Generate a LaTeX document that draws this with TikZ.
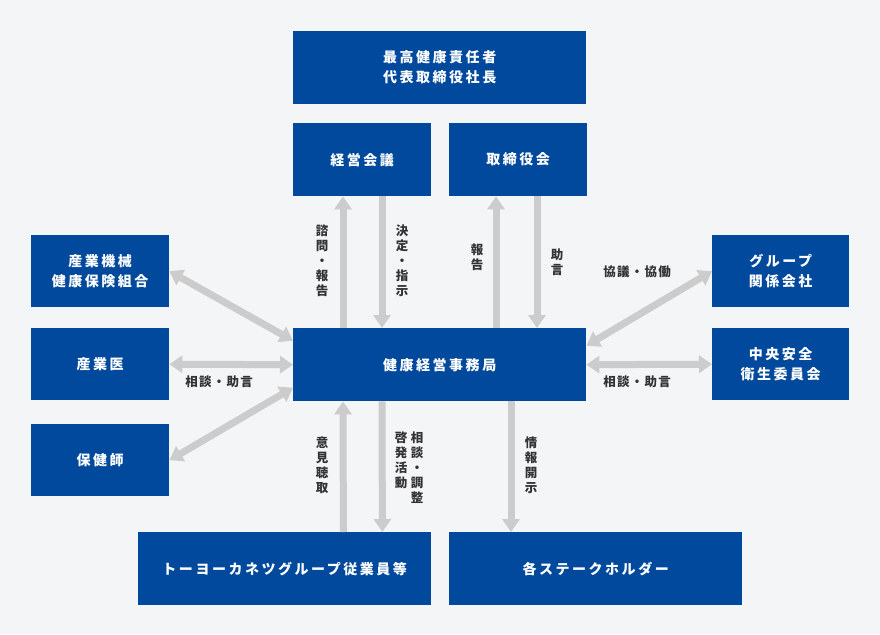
\documentclass[tikz,border=0pt]{standalone}
\usepackage{fontspec}
\usepackage{xcolor}
\usetikzlibrary{arrows.meta}
\setmainfont{Noto Sans CJK JP}
\newfontfamily\boxfont{Noto Sans CJK JP}[LetterSpace=18]
\newfontfamily\labfont{Noto Sans CJK JP}[LetterSpace=10]
\definecolor{boxblue}{RGB}{0,73,157}
\definecolor{bggray}{RGB}{244,245,247}
\definecolor{arrgray}{RGB}{204,204,204}
\definecolor{labgray}{RGB}{51,51,51}

\begin{document}
\begin{tikzpicture}[x=1pt, y=-1pt,
boxnode/.style={fill=boxblue, text=white, anchor=north west, align=center,
  font=\boxfont\bfseries\fontsize{14}{20}\selectfont, inner sep=0pt},
widebox/.style={boxnode, minimum width=293pt, minimum height=73pt},
smallbox/.style={boxnode, minimum width=138pt, minimum height=73pt},
flow/.style={draw=arrgray, line width=7pt, -{Triangle[width=17pt,length=13pt]}},
twoway/.style={draw=arrgray, line width=7pt, {Triangle[width=17pt,length=13pt]}-{Triangle[width=17pt,length=13pt]}},
lab/.style={text=labgray, align=center, inner sep=0pt,
  font=\labfont\bfseries\fontsize{12.5}{15}\selectfont}]

\fill[bggray] (0,0) rectangle (880,634);

% boxes
\node[widebox] (ceo) at (293,31) {最高健康責任者\\代表取締役社長};
\node[smallbox] (keiei) at (293,123) {経営会議};
\node[smallbox] (tori) at (449,123) {取締役会};
\node[widebox] (jimu) at (293,328) {健康経営事務局};

\node[smallbox, minimum height=72pt] (kumiai) at (31,235) {産業機械\\健康保険組合};
\node[smallbox, minimum height=72pt] (sangyoi) at (31,328) {産業医};
\node[smallbox, minimum height=72pt] (hokenshi) at (31,424) {保健師};

\node[smallbox, minimum width=137pt, minimum height=72pt] (group) at (712,235) {グループ\\関係会社};
\node[smallbox, minimum width=137pt, minimum height=72pt] (iinkai) at (712,328) {中央安全\\衛生委員会};

\node[widebox] (staff) at (138,532) {トーヨーカネツグループ従業員等};
\node[widebox] (stake) at (449,532) {各ステークホルダー};

% vertical arrows, upper half
\draw[flow] ([xshift=50pt]jimu.north west) -- ([xshift=50pt]keiei.south west);
\draw[flow] ([xshift=89pt]keiei.south west) -- ([xshift=89pt]jimu.north west);
\draw[flow] ([xshift=203pt]jimu.north west) -- ([xshift=47pt]tori.south west);
\draw[flow] ([xshift=88pt]tori.south west) -- ([xshift=244pt]jimu.north west);

% vertical arrows, lower half
\draw[flow] ([xshift=-88pt]staff.north east) -- ([xshift=50pt]jimu.south west);
\draw[flow] ([xshift=89pt]jimu.south west) -- ([xshift=-49pt]staff.north east);
\draw[flow] ([xshift=218pt]jimu.south west) -- ([xshift=62pt]stake.north west);

% left side
\draw[twoway] (kumiai.east) -- ([yshift=24pt]jimu.west);
\draw[twoway] (sangyoi.east) -- (jimu.west);
\draw[twoway] (hokenshi.east) -- ([yshift=-23pt]jimu.west);

% right side
\draw[twoway] ([yshift=19pt]jimu.east) -- (group.west);
\draw[twoway] (jimu.east) -- (iinkai.west);

% labels
\node[lab] (l1) at (322,261) {諮\\問\\・\\報\\告};
\node[lab] (l2) at (402,261) {決\\定\\・\\指\\示};
\node[lab] (l3) at (477,257) {報\\告};
\node[lab] (l4) at (557,262) {助\\言};
\node[lab] (l5) at (219,382) {相談・助言};
\node[lab] (l6) at (637,382) {相談・助言};
\node[lab] (l7) at (637,272) {協議・協働};
\node[lab] (l8) at (322,465) {意\\見\\聴\\取};
\node[lab] (l9) at (417,468) {相\\談\\・\\調\\整};
\node[lab] (l10) at (401,460) {啓\\発\\活\\動};
\node[lab] (l11) at (531,465) {情\\報\\開\\示};

\end{tikzpicture}
\end{document}
